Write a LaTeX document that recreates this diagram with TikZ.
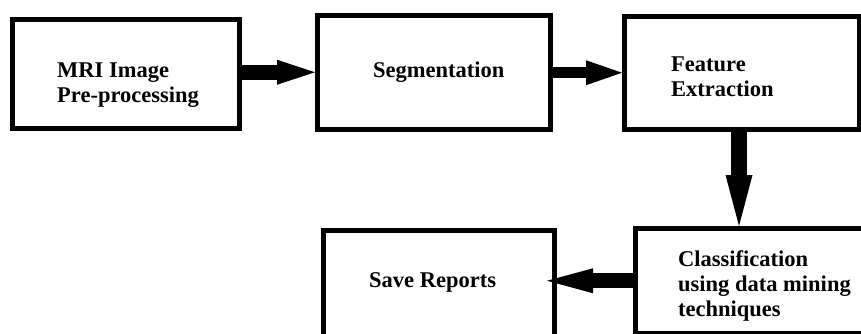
\documentclass[tikz,border=0pt]{standalone}
\usepackage{fontspec}
\setmainfont{Liberation Serif}
\usepackage{tikz}
\usetikzlibrary{positioning,arrows.meta,calc}

\begin{document}
\begin{tikzpicture}[x=1pt, y=-1pt,
  stage/.style={draw, line width=5pt, inner sep=0pt},
  caption/.style={font=\bfseries\fontsize{22.5}{25}\selectfont, align=left, anchor=north west, inner sep=0pt},
  flow/.style={line width=15pt}]
\useasboundingbox (0,0) rectangle (861,333);

\node[stage, minimum width=227pt, minimum height=108.5pt] (mri) at (126,73.75) {};
\node[stage, minimum width=233pt, minimum height=113.5pt] (seg) at (434,72.25) {};
\node[stage, minimum width=235pt, minimum height=112.5pt] (feat) at (742,72.75) {};
\node[stage, minimum width=239.5pt, minimum height=104.5pt] (cls) at (755.25,280.75) {};
\node[stage, minimum width=231pt, minimum height=114.5pt] (save) at (439,287.75) {};

% Texts inside the boxes
\node[caption] (mritext) at ($(mri.north west)+(47,46)$) {MRI Image\\Pre-processing};
\node[caption] (segtext) at ($(seg.north west)+(58,49)$) {Segmentation};
\node[caption] (feattext) at ($(feat.north west)+(49,43)$) {Feature\\Extraction};
\node[caption] (clstext) at ($(cls.north west)+(45,24)$) {Classification\\using data mining\\techniques};
\node[caption] (savetext) at ($(save.north west)+(48,44)$) {Save Reports};

% Flow between the stages
\draw[flow, -{Triangle[length=38pt,width=25pt,line width=0pt]}]
  (mri.east |- seg.west) -- (seg.west);
\draw[flow, line width=11pt, -{Triangle[length=36pt,width=25pt,line width=0pt]}]
  (seg.east |- feat.west) -- (feat.west);
\draw[flow, line width=16pt, -{Triangle[length=51pt,width=27pt,line width=0pt]}]
  ([xshift=-3pt]feat.south) -- ([xshift=-3pt]feat.south |- cls.north);
\draw[flow, shorten >=-10pt, -{Triangle[length=46pt,width=25pt,line width=0pt]}]
  (cls.west) -- (cls.west -| save.east);
\end{tikzpicture}
\end{document}
